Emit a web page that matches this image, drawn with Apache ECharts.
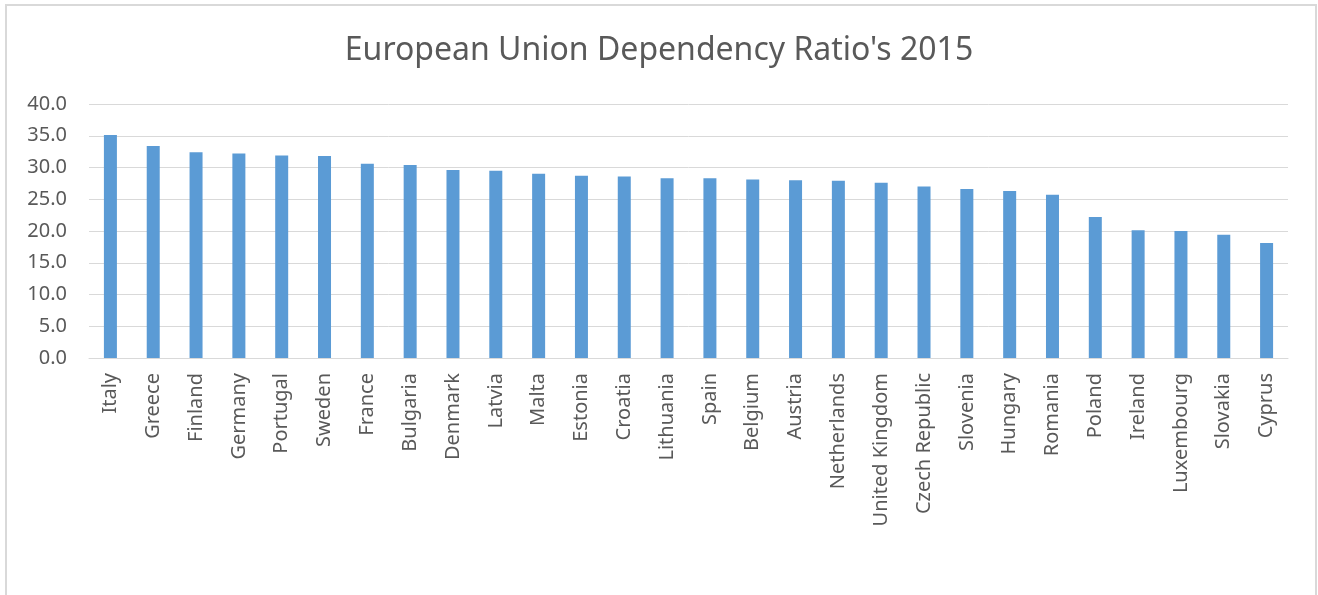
<!DOCTYPE html>
<html>
<head>
<meta charset="utf-8">
<script src="https://cdn.jsdelivr.net/npm/echarts@6/dist/echarts.min.js"></script>
<style>
  html, body { margin: 0; padding: 0; background: #fff; }
  #chart { width: 1318px; height: 595px; }
</style>
</head>
<body>
<div id="chart"></div>
<script>
// countries, sorted as in the source
var countries = ["Italy", "Greece", "Finland", "Germany", "Portugal", "Sweden", "France",
  "Bulgaria", "Denmark", "Latvia", "Malta", "Estonia", "Croatia", "Lithuania", "Spain",
  "Belgium", "Austria", "Netherlands", "United Kingdom", "Czech Republic", "Slovenia",
  "Hungary", "Romania", "Poland", "Ireland", "Luxembourg", "Slovakia", "Cyprus"];
// dependency ratio 2015
var ratios = [35.1, 33.4, 32.4, 32.2, 31.9, 31.8, 30.6,
  30.4, 29.6, 29.5, 29.0, 28.7, 28.6, 28.3, 28.3,
  28.1, 28.0, 27.9, 27.6, 27.0, 26.6,
  26.3, 25.7, 22.2, 20.1, 20.0, 19.4, 18.1];

var font = "'Noto Sans', 'Open Sans', sans-serif";
var chart = echarts.init(document.getElementById("chart"));

var option = {
  animation: false,
  title: {
    text: "European Union Dependency Ratio's 2015",
    left: "center",
    top: 30,
    textStyle: { color: "#595959", fontSize: 32, fontWeight: "normal", fontFamily: font }
  },
  graphic: [{
    type: "rect",
    shape: { x: 6, y: 5, width: 1310, height: 620 },
    style: { fill: null, stroke: "#d9d9d9", lineWidth: 2 },
    silent: true
  }],
  grid: { left: 89, right: 30, top: 104, bottom: 237 },
  xAxis: {
    type: "category",
    data: countries,
    axisTick: { show: false },
    axisLine: { lineStyle: { color: "#d9d9d9", width: 1 } },
    axisLabel: {
      rotate: 90,
      interval: 0,
      margin: 15,
      color: "#595959",
      fontSize: 20,
      fontFamily: font
    }
  },
  yAxis: {
    type: "value",
    min: 0,
    max: 40,
    interval: 5,
    axisLine: { show: false },
    axisTick: { show: false },
    axisLabel: {
      margin: 22,
      color: "#595959",
      fontSize: 20,
      fontFamily: font,
      formatter: function (v) { return v.toFixed(1); }
    },
    splitLine: { lineStyle: { color: "#d9d9d9", width: 1 } }
  },
  series: [{
    type: "bar",
    data: ratios,
    barWidth: 13,
    itemStyle: { color: "#5b9bd5" }
  }]
};

chart.setOption(option);
</script>
</body>
</html>
